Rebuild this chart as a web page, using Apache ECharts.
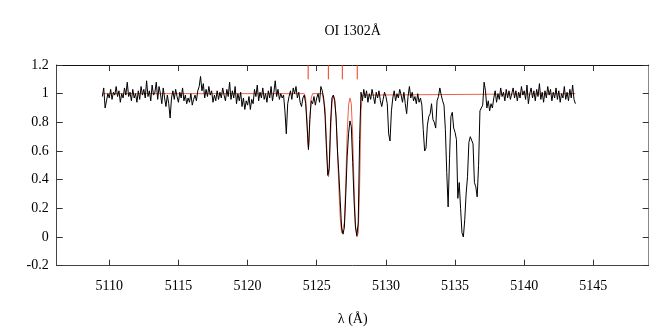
<!DOCTYPE html>
<html>
<head>
<meta charset="utf-8">
<script src="https://cdn.jsdelivr.net/npm/echarts@6/dist/echarts.min.js"></script>
<style>
  html, body { margin: 0; padding: 0; background: #fff; }
  #chart { width: 664px; height: 332px; }
</style>
</head>
<body>
<div id="chart"></div>
<script>
// spectrum sampled on a regular wavelength grid
const lambdaStart = 5109.5;
const lambdaStep = 0.1;
const flux = [
  0.98, 1.04, 0.90, 0.95, 1.00, 0.97, 1.03, 0.96, 1.01, 0.99, // 5109.5
  1.05, 0.98, 1.02, 0.94, 1.00, 0.97, 1.04, 0.99, 1.08, 0.98, // 5110.5
  1.01, 0.95, 1.03, 0.97, 1.00, 0.94, 1.02, 0.96, 1.05, 0.99, // 5111.5
  1.03, 0.97, 1.09, 0.98, 1.02, 0.95, 1.06, 0.99, 1.01, 1.08, // 5112.5
  0.96, 1.05, 1.00, 0.93, 1.04, 0.97, 0.91, 0.99, 0.93, 0.83, // 5113.5
  0.97, 1.02, 0.96, 1.03, 0.98, 0.94, 1.01, 0.97, 1.04, 0.95, // 5114.5
  0.99, 0.93, 0.97, 0.94, 1.00, 0.92, 0.96, 0.99, 0.95, 1.02, // 5115.5
  1.05, 1.12, 1.02, 1.07, 0.97, 1.03, 0.98, 1.05, 0.99, 1.02, // 5116.5
  0.94, 0.99, 0.95, 1.02, 0.96, 1.01, 0.97, 1.04, 0.99, 0.95, // 5117.5
  1.03, 0.98, 1.08, 0.96, 1.02, 0.97, 1.05, 0.93, 1.00, 0.95, // 5118.5
  1.01, 0.91, 0.97, 0.89, 0.95, 0.92, 0.98, 0.89, 0.96, 0.93, // 5119.5
  1.03, 0.98, 1.06, 0.95, 1.01, 0.97, 1.04, 0.96, 1.00, 0.94, // 5120.5
  1.02, 0.97, 1.05, 0.95, 1.01, 1.09, 0.98, 1.03, 0.96, 1.00, // 5121.5
  0.97, 0.99, 0.88, 0.72, 0.93, 0.98, 1.02, 0.96, 1.04, 1.00, // 5122.5
  1.05, 0.97, 1.01, 0.94, 0.91, 0.97, 0.99, 0.93, 0.78, 0.61, // 5123.5
  0.82, 0.95, 0.93, 0.98, 0.92, 0.97, 1.00, 0.94, 1.05, 1.02, // 5124.5
  0.97, 0.85, 0.62, 0.43, 0.48, 0.80, 0.97, 0.99, 0.95, 0.83, // 5125.5
  0.60, 0.44, 0.25, 0.06, 0.02, 0.07, 0.30, 0.56, 0.72, 0.81, // 5126.5
  0.77, 0.52, 0.25, 0.07, 0.01, 0.10, 0.68, 1.01, 0.95, 1.03, // 5127.5
  0.97, 1.02, 0.94, 1.00, 0.96, 1.03, 0.98, 0.93, 1.01, 0.97, // 5128.5
  1.02, 0.95, 0.91, 0.96, 1.01, 0.98, 0.93, 0.72, 0.67, 0.88, // 5129.5
  0.97, 1.02, 0.95, 1.00, 0.97, 1.03, 0.99, 0.94, 1.01, 0.93, // 5130.5
  0.86, 0.98, 1.05, 0.97, 1.01, 0.95, 0.98, 0.93, 1.00, 0.94, // 5131.5
  0.97, 0.92, 0.75, 0.60, 0.62, 0.78, 0.84, 0.86, 0.93, 0.82, // 5132.5
  0.80, 0.76, 0.95, 0.98, 1.04, 0.99, 0.95, 0.92, 0.75, 0.45, // 5133.5
  0.21, 0.55, 0.84, 0.87, 0.76, 0.73, 0.68, 0.27, 0.38, 0.20, // 5134.5
  0.03, 0.00, 0.12, 0.30, 0.42, 0.66, 0.70, 0.71, 0.65, 0.38, // 5135.5
  0.35, 0.28, 0.50, 0.88, 0.89, 0.92, 1.08, 1.02, 0.90, 0.95, // 5136.5
  0.88, 0.93, 0.90, 0.97, 1.02, 0.94, 1.00, 0.96, 1.04, 0.98, // 5137.5
  1.01, 0.95, 1.03, 0.97, 1.02, 0.96, 1.00, 1.04, 0.97, 1.02, // 5138.5
  0.95, 1.01, 0.97, 1.05, 0.99, 1.02, 0.96, 1.06, 0.93, 1.00, // 5139.5
  1.04, 0.97, 1.02, 0.95, 1.03, 0.98, 1.07, 0.96, 1.01, 0.94, // 5140.5
  1.02, 0.97, 1.05, 0.99, 1.03, 0.95, 1.01, 0.97, 1.04, 0.96, // 5141.5
  1.02, 0.94, 1.00, 0.97, 1.05, 0.96, 1.01, 0.95, 1.03, 0.97, // 5142.5
  1.06, 0.96, 0.93                                            // 5143.5
];

// fitted profile, [lambda, flux]
const fitPoints = [
  [5109.5, 1.0], [5124.1, 1.0], [5124.2, 0.97], [5124.3, 0.80], [5124.35, 0.67],
  [5124.4, 0.62], [5124.45, 0.67], [5124.5, 0.82], [5124.6, 0.97], [5124.7, 1.0],
  [5125.4, 1.0], [5125.5, 0.99], [5125.6, 0.90], [5125.7, 0.68], [5125.8, 0.46],
  [5125.85, 0.42], [5125.9, 0.46], [5126.0, 0.72], [5126.1, 0.93], [5126.2, 0.99],
  [5126.3, 0.96], [5126.4, 0.84], [5126.5, 0.60], [5126.6, 0.34], [5126.7, 0.13],
  [5126.8, 0.03], [5126.9, 0.02], [5127.0, 0.10], [5127.1, 0.38], [5127.2, 0.72],
  [5127.3, 0.92], [5127.4, 0.97], [5127.5, 0.93], [5127.6, 0.70], [5127.7, 0.35],
  [5127.8, 0.08], [5127.9, 0.00], [5128.0, 0.03], [5128.1, 0.35], [5128.2, 0.88],
  [5128.3, 0.99], [5128.4, 1.0], [5143.7, 1.0]
];

// component positions marked at the top
const componentLambda = [5124.38, 5125.84, 5126.85, 5127.93];
const markLow = 1.1;
const markHigh = 1.2;

const xTicks = [5110, 5115, 5120, 5125, 5130, 5135, 5140, 5145];

const fontFamily = '"Liberation Serif", "DejaVu Serif", serif';

const chart = echarts.init(document.getElementById('chart'));

const spectrum = flux.map((f, i) => [+(lambdaStart + i * lambdaStep).toFixed(2), f]);

const markSeries = componentLambda.map(l => ({
  type: 'line',
  data: [[l, markLow], [l, markHigh]],
  symbol: 'none',
  lineStyle: { color: '#ee3a1c', width: 1 },
  z: 4
}));

const xBase = {
  type: 'value',
  min: 5106.2,
  max: 5149.0,
  splitLine: { show: false },
  axisTick: { show: true, inside: true, length: 6, customValues: xTicks, lineStyle: { color: '#333' } }
};
const yBase = {
  type: 'value',
  min: -0.2,
  max: 1.2,
  interval: 0.2,
  splitLine: { show: false },
  axisTick: { show: true, inside: true, length: 6, lineStyle: { color: '#333' } }
};

const option = {
  animation: false,
  backgroundColor: '#fff',
  grid: { left: 56.7, right: 15.3, top: 65, bottom: 66.3 },
  graphic: [{
    type: 'text',
    x: 352.7,
    y: 31.7,
    style: {
      text: 'OI 1302Å',
      font: '14px ' + fontFamily,
      fill: '#000',
      textAlign: 'center',
      textVerticalAlign: 'middle'
    }
  }],
  xAxis: [
    Object.assign({}, xBase, {
      position: 'bottom',
      axisLine: { show: true, onZero: false, lineStyle: { color: '#444', width: 1 } },
      axisLabel: {
        show: true, customValues: xTicks, margin: 14,
        color: '#000', fontFamily: fontFamily, fontSize: 14,
        formatter: v => String(v)
      },
      name: 'λ (Å)',
      nameLocation: 'middle',
      nameGap: 47,
      nameTextStyle: { color: '#000', fontFamily: fontFamily, fontSize: 14 }
    }),
    Object.assign({}, xBase, {
      position: 'top',
      axisLine: { show: true, onZero: false, lineStyle: { color: '#111', width: 1 } },
      axisLabel: { show: false }
    })
  ],
  yAxis: [
    Object.assign({}, yBase, {
      position: 'left',
      axisLine: { show: true, onZero: false, lineStyle: { color: '#444', width: 1 } },
      axisLabel: {
        show: true, margin: 8, color: '#000', fontFamily: fontFamily, fontSize: 14,
        formatter: v => String(Math.round(v * 10) / 10)
      }
    }),
    Object.assign({}, yBase, {
      position: 'right',
      axisLine: { show: true, onZero: false, lineStyle: { color: '#888', width: 1 } },
      axisLabel: { show: false }
    })
  ],
  series: [
    {
      type: 'line',
      data: fitPoints,
      symbol: 'none',
      lineStyle: { color: '#f06048', width: 1 },
      z: 2
    },
    {
      type: 'line',
      data: spectrum,
      symbol: 'none',
      lineStyle: { color: '#000', width: 1 },
      z: 3
    }
  ].concat(markSeries)
};

chart.setOption(option);
</script>
</body>
</html>
